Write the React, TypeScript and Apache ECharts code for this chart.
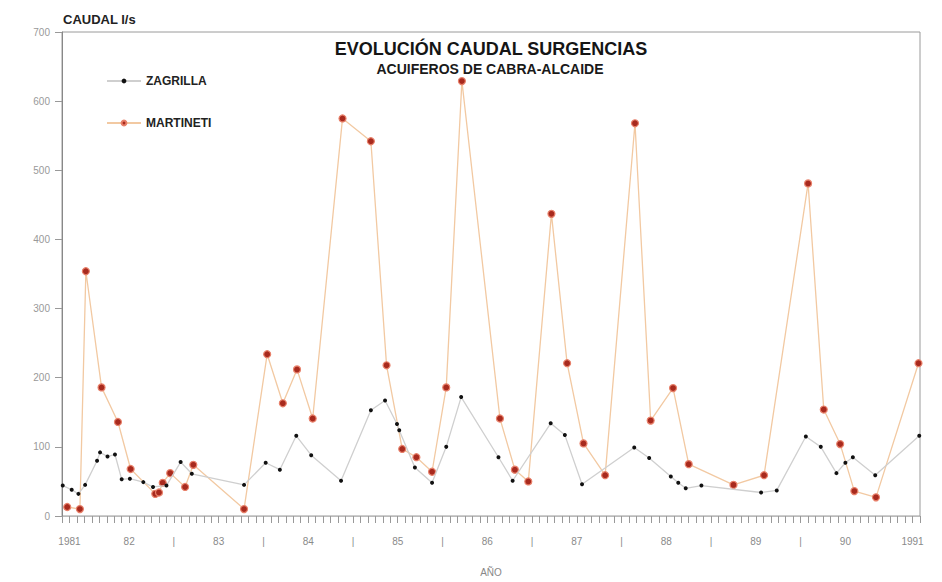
import { useEffect, useRef } from 'react';
import * as echarts from 'echarts';

// x = months counted from January 1981 (Jan 1982 = 12)
const zagrillaMonth = [9.1, 10.3, 11.2, 12.1, 13.7, 14.1, 15.1, 16.1, 17.0, 18.1, 19.9, 21.2, 23.0, 24.9, 26.4, 33.4, 36.3, 38.2, 40.4, 42.4, 46.4, 50.4, 52.3, 53.9, 54.2, 56.3, 58.6, 60.5, 62.5, 67.5, 69.4, 74.5, 76.4, 78.7, 85.7, 87.7, 90.6, 91.6, 92.6, 94.7, 102.7, 104.8, 108.7, 110.7, 112.8, 114.0, 115.0, 118.0, 123.9];
const zagrillaFlow = [44, 38, 32, 45, 80, 92, 86, 89, 53, 54, 49, 42, 44, 78, 61, 45, 77, 67, 116, 88, 51, 153, 167, 133, 124, 70, 48, 100, 172, 85, 51, 134, 117, 46, 99, 84, 57, 48, 40, 44, 34, 37, 115, 100, 62, 77, 85, 59, 116];

const martinetiMonth = [9.7, 11.4, 12.2, 14.3, 16.5, 18.2, 21.5, 22.0, 22.5, 23.5, 25.5, 26.6, 33.4, 36.5, 38.6, 40.5, 42.6, 46.6, 50.4, 52.5, 54.6, 56.5, 58.6, 60.5, 62.6, 67.7, 69.7, 71.5, 74.6, 76.7, 78.9, 81.8, 85.8, 87.9, 90.9, 93.0, 99.0, 103.1, 109.0, 111.1, 113.3, 115.2, 118.1, 123.8];
const martinetiFlow = [13, 10, 354, 186, 136, 68, 32, 34, 48, 62, 42, 74, 10, 234, 163, 212, 141, 575, 542, 218, 97, 85, 64, 186, 629, 141, 67, 50, 437, 221, 105, 59, 568, 138, 185, 75, 45, 59, 481, 154, 104, 36, 27, 221];

const xLabelMonths = [10, 18, 24, 30, 36, 42, 48, 54, 60, 66, 72, 78, 84, 90, 96, 102, 108, 114, 123];
const xLabelTexts = ['1981', '82', '|', '83', '|', '84', '|', '85', '|', '86', '|', '87', '|', '88', '|', '89', '|', '90', '1991'];

const seriesNames = ['ZAGRILLA', 'MARTINETI'];

const FONT = 'Liberation Sans, Arial, sans-serif';

export default function App() {
  const ref = useRef<HTMLDivElement>(null);
  useEffect(() => {
    const chart = echarts.init(ref.current!, null, { renderer: 'svg' });
    const zData = zagrillaMonth.map((m, i) => [m, zagrillaFlow[i]]);
    const mData = martinetiMonth.map((m, i) => [m, martinetiFlow[i]]);
    chart.setOption({
      animation: false,
      backgroundColor: '#ffffff',
      title: [
        {
          text: 'EVOLUCIÓN CAUDAL SURGENCIAS',
          left: 491,
          top: 40,
          textAlign: 'center',
          padding: 0,
          textStyle: { fontSize: 18, fontWeight: 'bold', color: '#151515', fontFamily: FONT },
        },
        {
          text: 'ACUIFEROS DE CABRA-ALCAIDE',
          left: 490,
          top: 62,
          textAlign: 'center',
          padding: 0,
          textStyle: { fontSize: 14, fontWeight: 'bold', color: '#1a1a1a', fontFamily: FONT },
        },
      ],
      legend: {
        data: seriesNames,
        orient: 'vertical',
        left: 106,
        top: 75,
        itemWidth: 34,
        itemHeight: 6,
        itemGap: 30,
        padding: 0,
        textStyle: { fontSize: 12, fontWeight: 'bold', color: '#222', fontFamily: FONT },
      },
      graphic: [
        {
          type: 'text',
          left: 63,
          top: 13,
          style: { text: 'CAUDAL l/s', fontSize: 13, fontWeight: 'bold', fill: '#222', fontFamily: FONT },
        },
      ],
      grid: {
        left: 62,
        right: 22,
        top: 32,
        bottom: 58,
        show: true,
        borderColor: '#9a9a9a',
        borderWidth: 1,
        backgroundColor: 'transparent',
      },
      xAxis: {
        type: 'value',
        min: 9,
        max: 124,
        interval: 1,
        name: 'AÑO',
        nameLocation: 'middle',
        nameGap: 51,
        nameTextStyle: { fontSize: 10, color: '#888', fontFamily: FONT },
        axisLine: { show: true, lineStyle: { color: '#bbb' } },
        axisTick: { show: true, length: 7, lineStyle: { color: '#999' } },
        splitLine: { show: false },
        axisLabel: {
          margin: 20,
          fontSize: 10,
          color: '#8a8a8a',
          fontFamily: FONT,
          showMinLabel: true,
          showMaxLabel: true,
          formatter: (v: number) => {
            const i = xLabelMonths.indexOf(Math.round(v));
            return i >= 0 && Math.abs(v - Math.round(v)) < 0.01 ? xLabelTexts[i] : '';
          },
        },
      },
      yAxis: {
        type: 'value',
        min: 0,
        max: 700,
        interval: 100,
        axisLine: { show: true, lineStyle: { color: '#888' } },
        axisTick: { show: true, length: 7, lineStyle: { color: '#999' } },
        splitLine: { show: false },
        axisLabel: { margin: 12, fontSize: 10, color: '#999', fontFamily: FONT },
      },
      series: [
        {
          name: seriesNames[0],
          type: 'line',
          data: zData,
          symbol: 'circle',
          symbolSize: 4,
          showSymbol: true,
          lineStyle: { color: '#cfcfcf', width: 1.3 },
          itemStyle: { color: '#111111' },
          z: 3,
        },
        {
          name: seriesNames[1],
          type: 'line',
          data: mData,
          symbol: 'circle',
          symbolSize: 7,
          showSymbol: true,
          lineStyle: { color: '#f2c9a2', width: 1.3 },
          itemStyle: { color: '#a82a1e', borderColor: '#e8806a', borderWidth: 1.2 },
          z: 2,
        },
      ],
    });
    return () => chart.dispose();
  }, []);
  return (
    <div
      ref={ref}
      style={{ position: 'fixed', left: 0, top: 0, width: 942, height: 582, background: '#fff' }}
    />
  );
}
